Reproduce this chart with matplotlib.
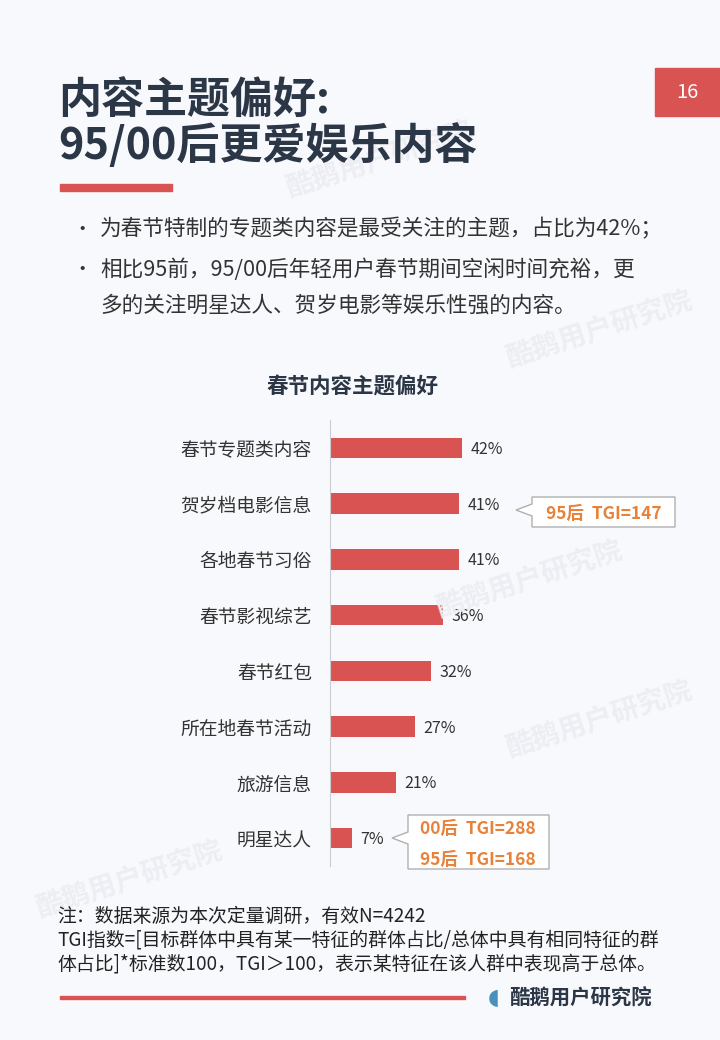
import matplotlib
matplotlib.use("Agg")
import matplotlib.pyplot as plt
from matplotlib.patches import Rectangle, Polygon

plt.rcParams['font.family'] = ['Noto Sans CJK SC', 'DejaVu Sans']

# Data
categories = ['春节专题类内容', '贺岁档电影信息', '各地春节习俗', '春节影视综艺',
              '春节红包', '所在地春节活动', '旅游信息', '明星达人']
shares = [42, 41, 41, 36, 32, 27, 21, 7]
value_labels = ['42%', '41%', '41%', '36%', '32%', '27%', '21%', '7%']

title_lines = ['内容主题偏好:', '95/00后更爱娱乐内容']
bullets = ['为春节特制的专题类内容是最受关注的主题，占比为42%；',
           '相比95前，95/00后年轻用户春节期间空闲时间充裕，更',
           '多的关注明星达人、贺岁电影等娱乐性强的内容。']
notes = ['注：数据来源为本次定量调研，有效N=4242',
         'TGI指数=[目标群体中具有某一特征的群体占比/总体中具有相同特征的群',
         '体占比]*标准数100，TGI＞100，表示某特征在该人群中表现高于总体。']

W, H = 720, 1040
RED = '#d95352'
NAVY = '#2b3646'
TEXT = '#333333'
ORANGE = '#e8823a'

fig = plt.figure(figsize=(W / 100, H / 100), dpi=100)
fig.patch.set_facecolor('#f8f9fc')


def px(x, y):
    return x / W, 1 - y / H


def ftext(x, y, s, **kw):
    fig.text(*px(x, y), s, **kw)


# faint watermarks (kept inside the page)
for (wx, wy) in [(600, 330), (530, 580), (600, 720), (380, 160), (130, 880)]:
    ftext(wx, wy, '酷鹅用户研究院', fontsize=20, color='#eceef3', rotation=18,
          ha='center', va='center', fontweight='bold', zorder=0)

# title
ftext(58, 100, title_lines[0], fontsize=31, fontweight='bold', color=NAVY, va='center')
ftext(58, 146, title_lines[1], fontsize=31, fontweight='bold', color=NAVY, va='center')
fig.patches.append(Rectangle(px(60, 191), 112 / W, 7 / H, transform=fig.transFigure,
                             color=RED, zorder=3))

# page number
fig.patches.append(Rectangle(px(655, 116), 65 / W, 48 / H, transform=fig.transFigure,
                             color=RED, zorder=3))
ftext(687, 93, '16', fontsize=14.5, color='white', ha='center', va='center', zorder=4)

# bullets
ftext(72, 229, '•', fontsize=14, color=TEXT, va='center')
ftext(72, 270, '•', fontsize=14, color=TEXT, va='center')
ftext(100, 229, bullets[0], fontsize=15.6, color=TEXT, va='center')
ftext(100, 270, bullets[1], fontsize=15.6, color=TEXT, va='center')
ftext(100, 306, bullets[2], fontsize=15.6, color=TEXT, va='center')

# chart title
ftext(352, 386, '春节内容主题偏好', fontsize=15.5, fontweight='bold', color=NAVY,
      ha='center', va='center')

# bar chart
ax = fig.add_axes([330 / W, 1 - 866 / H, 315 / W, 446 / H])
ax.set_facecolor('none')
ypos = list(range(len(categories)))
ax.barh(ypos, shares, height=0.37, color=RED)
ax.set_xlim(0, 100)
ax.set_ylim(len(categories) - 0.5, -0.5)
ax.set_yticks(ypos)
ax.set_yticklabels(categories, fontsize=13.5, color=TEXT)
ax.tick_params(axis='y', length=0, pad=13)
ax.set_xticks([])
for s in ['top', 'right', 'bottom']:
    ax.spines[s].set_visible(False)
ax.spines['left'].set_color('#cccccc')
for y, v, lab in zip(ypos, shares, value_labels):
    ax.annotate(lab, (v, y), xytext=(6, -1), textcoords='offset points',
                fontsize=11.5, color=TEXT, va='center', ha='left')

# callout boxes
def callout(x0, y0, x1, y1, tip, attach_y):
    pts = [px(x0, y0), px(x1, y0), px(x1, y1), px(x0, y1),
           px(x0, attach_y + 6), px(*tip), px(x0, attach_y - 6)]
    fig.patches.append(Polygon(pts, closed=True, transform=fig.transFigure,
                               facecolor='white', edgecolor='#b0b0b0', lw=1, zorder=3))


callout(532, 497, 675, 527, (516, 510), 510)
ftext(604, 514, '95后  TGI=147', fontsize=12.5, fontweight='bold', color=ORANGE,
      ha='center', va='center', zorder=4)
callout(408, 815, 549, 869, (392, 838), 838)
ftext(478, 829, '00后  TGI=288', fontsize=12.5, fontweight='bold', color=ORANGE,
      ha='center', va='center', zorder=4)
ftext(478, 860, '95后  TGI=168', fontsize=12.5, fontweight='bold', color=ORANGE,
      ha='center', va='center', zorder=4)

# notes
for i, line in enumerate(notes):
    ftext(57, 916 + i * 24, line, fontsize=13.6, color='#222222', va='center')

# footer
fig.patches.append(Rectangle(px(60, 999), 405 / W, 3 / H, transform=fig.transFigure,
                             color=RED, zorder=3))
ftext(494, 997, '◖', fontsize=16, color='#4a90b8', ha='center', va='center')
ftext(509, 997, '酷鹅用户研究院', fontsize=14.7, fontweight='bold', color=NAVY,
      va='center')

fig.savefig('out.png', dpi=100, facecolor=fig.get_facecolor())
